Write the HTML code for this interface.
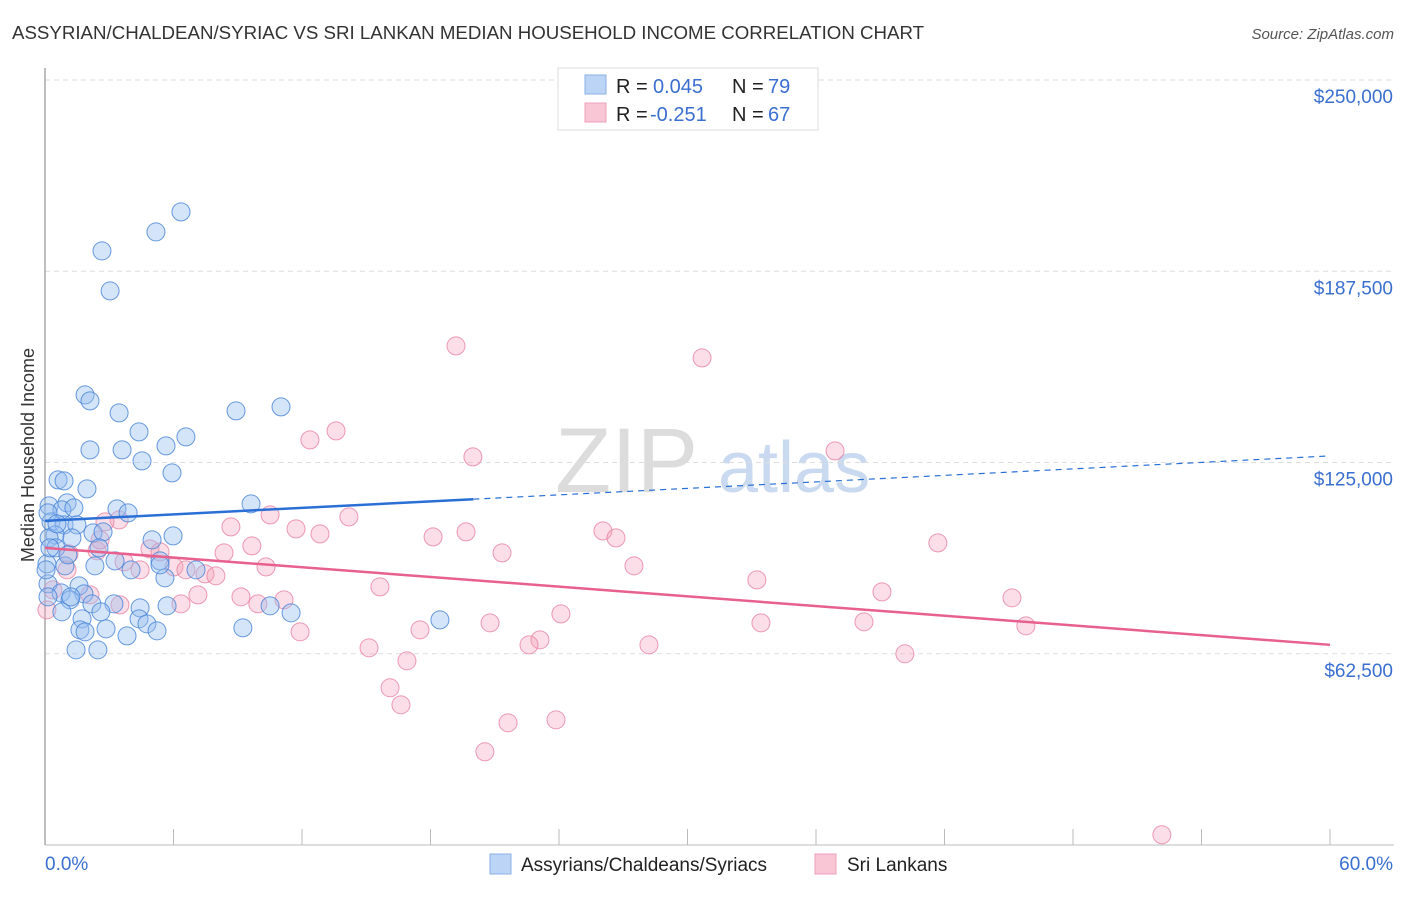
<!DOCTYPE html>
<html><head><meta charset="utf-8"><style>
body{margin:0;background:#fff;font-family:"Liberation Sans",sans-serif;}
svg text{font-family:"Liberation Sans",sans-serif;}
</style></head><body>
<svg id="chart" width="1406" height="892" viewBox="0 0 1406 892">
<text x="12" y="39" font-size="18.7" fill="#333">ASSYRIAN/CHALDEAN/SYRIAC VS SRI LANKAN MEDIAN HOUSEHOLD INCOME CORRELATION CHART</text>
<text x="1394" y="39" font-size="15" fill="#555" font-style="italic" text-anchor="end">Source: ZipAtlas.com</text>
<text transform="translate(34,455) rotate(-90)" font-size="18" fill="#333" text-anchor="middle">Median Household Income</text>
<g>
<text x="555" y="492" font-size="92" fill="#dcdcdc" font-family="Liberation Serif,serif">ZIP</text>
<text x="718" y="492" font-size="72" fill="#c9d9ef">atlas</text>
</g>
<g id="grid"></g><g id="axes"></g><g id="marks"></g>
<g>
<rect x="558" y="68" width="260" height="62" fill="#fff" stroke="#ddd"/>
<rect x="585" y="75" width="21" height="19" fill="#bcd4f5" stroke="#8ab0e6"/>
<text x="616" y="93" font-size="20" fill="#222">R = </text><text x="653" y="93" font-size="20" fill="#3a6fd0">0.045</text>
<text x="732" y="93" font-size="20" fill="#222">N = </text><text x="768" y="93" font-size="20" fill="#3a6fd0">79</text>
<rect x="585" y="103" width="21" height="19" fill="#f8c6d5" stroke="#eda0b8"/>
<text x="616" y="121" font-size="20" fill="#222">R = </text><text x="650" y="121" font-size="20" fill="#3a6fd0">-0.251</text>
<text x="732" y="121" font-size="20" fill="#222">N = </text><text x="768" y="121" font-size="20" fill="#3a6fd0">67</text>
</g>
<g>
<rect x="490" y="854" width="21" height="20" fill="#bcd4f5" stroke="#8ab0e6"/>
<text x="521" y="871" font-size="19" fill="#222">Assyrians/Chaldeans/Syriacs</text>
<rect x="815" y="854" width="21" height="20" fill="#f8c6d5" stroke="#eda0b8"/>
<text x="847" y="871" font-size="19" fill="#222">Sri Lankans</text>
</g>
</svg>
<script>
const blueX=[6.35,5.18,2.66,3.04,1.87,2.10,3.46,8.92,11.02,4.39,6.58,5.65,2.10,3.60,4.53,5.93,0.61,0.89,1.96,9.62,1.03,0.19,0.79,1.35,3.36,3.88,0.28,0.89,1.49,0.47,2.24,2.71,0.19,1.26,5.98,5.00,2.52,0.51,3.27,5.37,0.09,0.93,2.33,4.02,7.05,5.60,1.59,0.14,0.75,1.82,1.17,3.22,2.19,4.44,5.70,2.61,0.79,10.51,11.49,4.39,1.73,4.76,18.44,1.63,1.87,2.85,5.23,9.24,3.83,1.45,2.47,0.14,1.21,5.37,0.14,0.56,1.07,0.05,0.23];
const blueY=[206900,200350,194140,181070,147090,145130,141210,141860,143170,135000,133370,130430,129120,129120,125530,121610,119320,118990,116380,111480,111810,110830,109520,110170,109850,108540,105600,104620,104620,101350,102000,102330,100370,100370,101030,99720,97100,97100,92860,92860,91880,91230,91230,89920,89920,87310,84690,85350,82410,82080,80120,78810,78810,77500,78160,76200,76200,78160,75870,73910,73910,72280,73580,70320,69660,70640,69990,70970,68350,63780,63780,81100,81100,91560,108540,104950,94820,89920,97100];
const pinkX=[19.19,30.68,13.59,12.37,36.89,19.98,10.51,14.19,8.68,3.46,2.80,11.72,12.84,26.05,26.66,19.66,18.12,41.69,9.66,8.36,21.34,4.90,5.37,1.12,2.43,3.69,6.02,6.58,10.32,7.47,7.98,27.50,33.24,15.64,39.08,45.15,9.15,7.14,6.35,11.16,9.94,24.09,20.78,33.43,38.24,45.80,11.91,17.51,23.11,22.60,28.20,15.13,16.90,40.15,16.11,16.62,21.62,23.86,20.54,52.15,0.37,0.09,2.10,1.03,3.50,4.44,2.57];
const pinkY=[163100,159180,135330,132390,128790,126830,107890,107230,103960,106250,105600,103310,101680,102660,100370,102330,100700,98740,97760,95470,95470,96780,95800,95150,96130,92530,90900,89920,90900,88610,87960,91230,86650,84360,82730,80770,81100,81750,78810,80120,78810,75540,72600,72600,72930,71620,69660,70320,67050,65420,65420,64440,60190,62480,51370,45810,39930,40910,30460,3340,83380,76850,81750,89920,78480,89920,99720];
const yTicks=[62500,125000,187500,250000];
const yTickLabels=["$62,500","$125,000","$187,500","$250,000"];
const blueTrend=[105930,127160]; // at x=0 and x=60
const blueSolidEnd=20;
const pinkTrend=[97100,65420];
const NS="http://www.w3.org/2000/svg";
const X0=45,X1=1330,Y0=845,YT=80;
function sx(v){return X0+(v/60)*(X1-X0);}
function sy(v){return Y0-(v/250000)*(Y0-YT);}
function mk(tag,attrs,parent){const e=document.createElementNS(NS,tag);for(const k in attrs)e.setAttribute(k,attrs[k]);parent.appendChild(e);return e;}
const grid=document.getElementById('grid'),axes=document.getElementById('axes'),marks=document.getElementById('marks');
yTicks.forEach((t,i)=>{
  const l=mk('line',{x1:X0,x2:1394,y1:sy(t),y2:sy(t),stroke:'#ddd','stroke-dasharray':'5,4'},grid);
  
  
  const tx=mk('text',{x:1393,y:sy(t)+23,'font-size':19,fill:'#3a6fd0','text-anchor':'end'},axes);
  tx.textContent=yTickLabels[i];
  
  
});
const ya=mk('line',{x1:X0,x2:X0,y1:68,y2:Y0,stroke:'#aaa','stroke-width':1.5},axes);


const xa=mk('line',{x1:X0,x2:1394,y1:Y0,y2:Y0,stroke:'#bbb'},axes);


for(let i=1;i<=10;i++){const tk=mk('line',{x1:sx(i*6),x2:sx(i*6),y1:Y0-16,y2:Y0,stroke:'#bbb'},axes);
  
  }
const xl0=mk('text',{x:45,y:870,'font-size':19,fill:'#3a6fd0'},axes);xl0.textContent='0.0%';


const xl1=mk('text',{x:1393,y:870,'font-size':19,fill:'#3a6fd0','text-anchor':'end'},axes);xl1.textContent='60.0%';


pinkX.forEach((x,i)=>{const c=mk('circle',{cx:sx(x),cy:sy(pinkY[i]),r:9,fill:'rgba(244,160,186,0.35)',stroke:'rgba(233,130,162,0.8)','stroke-width':1},marks);
  
  });
blueX.forEach((x,i)=>{const c=mk('circle',{cx:sx(x),cy:sy(blueY[i]),r:9,fill:'rgba(150,190,240,0.4)',stroke:'rgba(70,130,215,0.8)','stroke-width':1},marks);
  
  });
function ty(tr,x){return tr[0]+(tr[1]-tr[0])*x/60;}
const bl=mk('line',{x1:sx(0),y1:sy(ty(blueTrend,0)),x2:sx(blueSolidEnd),y2:sy(ty(blueTrend,blueSolidEnd)),stroke:'#2a6fd6','stroke-width':2.5},marks);


const bd=mk('line',{x1:sx(blueSolidEnd),y1:sy(ty(blueTrend,blueSolidEnd)),x2:sx(60),y2:sy(ty(blueTrend,60)),stroke:'#2a6fd6','stroke-width':1.2,'stroke-dasharray':'6,5'},marks);


const pl=mk('line',{x1:sx(0),y1:sy(ty(pinkTrend,0)),x2:sx(60),y2:sy(ty(pinkTrend,60)),stroke:'#e8608e','stroke-width':2.5},marks);


</script>
</body></html>
